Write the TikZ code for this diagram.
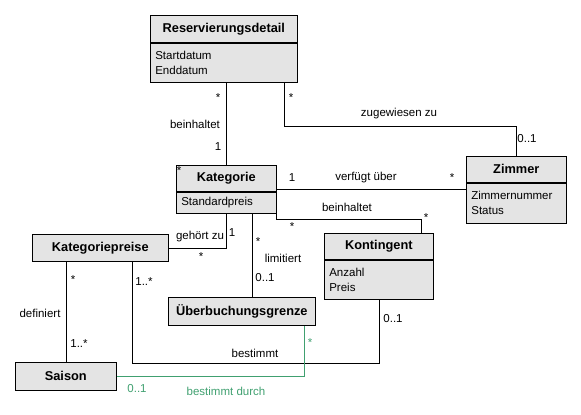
\documentclass[tikz,border=0pt]{standalone}
\usepackage{fontspec}
\setmainfont{Liberation Sans}
\usetikzlibrary{positioning}
\definecolor{boxgray}{RGB}{228,228,228}
\definecolor{assoc}{RGB}{64,160,112}
\newcommand{\fH}{\fontsize{12.8}{14}\selectfont\bfseries}
\newcommand{\fA}{\fontsize{11.5}{15}\selectfont}

\begin{document}
\begin{tikzpicture}[x=1pt,y=-1pt,line width=0.65pt,
  hd/.style={draw,fill=boxgray,font=\fH,inner sep=0pt,anchor=north west},
  attr/.style={draw,fill=boxgray,font=\fA,align=left,inner xsep=5pt,inner ysep=0pt},
  lbl/.style={font=\fA,inner sep=0pt}]
  \useasboundingbox (0,0) rectangle (581,415);
  % classes
  \node[hd,minimum width=147pt,minimum height=27pt] (rd) at (150,15) {Reservierungsdetail};
  \node[attr,text width=137pt,minimum height=39pt,below=0pt of rd] (rdA) {Startdatum\\Enddatum};
  \node[hd,minimum width=100pt,minimum height=26pt] (kat) at (176,165) {Kategorie};
  \node[attr,text width=90pt,minimum height=21pt,below=0pt of kat] (katA) {Standardpreis};
  \node[hd,minimum width=100pt,minimum height=26pt] (zim) at (466,156) {Zimmer};
  \node[attr,text width=90pt,minimum height=40pt,below=0pt of zim] (zimA) {Zimmernummer\\Status};
  \node[hd,minimum width=109pt,minimum height=26pt] (kont) at (324,233) {Kontingent};
  \node[attr,text width=99pt,minimum height=39pt,below=0pt of kont] (kontA) {Anzahl\\Preis};
  \node[hd,minimum width=136pt,minimum height=27pt] (kp) at (32,234) {Kategoriepreise};
  \node[hd,minimum width=147pt,minimum height=28pt] (ueb) at (168,297) {Überbuchungsgrenze};
  \node[hd,minimum width=101pt,minimum height=28pt] (sai) at (15,362) {Saison};
  % associations
  \draw (rdA.south -| kat.north) -- (kat.north);
  \draw ([xshift=60pt]rdA.south) -- ++(0,44) -| (zim.north);
  \draw ([yshift=-11pt]kat.east) -- ([yshift=-11pt]kat.east -| zim.west);
  \draw (katA.south east) -- ++(0,6) -| ([xshift=42pt]kont.north);
  \draw (kp.east) -| (katA.south);
  \draw ([xshift=26pt]katA.south) -- ([xshift=26pt]katA.south |- ueb.north);
  \draw (sai.north |- kp.south) -- (sai.north);
  \draw ([xshift=32pt]kp.south) -- ++(0,102) -| (kontA.south);
  \draw[assoc] (sai.east) -| ([xshift=62pt]ueb.south);
  % labels
  \node[lbl] (m1) at (218,98) {*};
  \node[lbl] (n1) at (195,124) {beinhaltet};
  \node[lbl] (m2) at (218,147) {1};
  \node[lbl] (m3) at (291,98) {*};
  \node[lbl] (n2) at (399,114) {zugewiesen zu};
  \node[lbl] (m4) at (527,139) {0..1};
  \node[lbl] (m5) at (179,171) {*};
  \node[lbl] (m6) at (292,178) {1};
  \node[lbl] (n3) at (366,178) {verfügt über};
  \node[lbl] (m7) at (452,178) {*};
  \node[lbl] (n4) at (347,207) {beinhaltet};
  \node[lbl] (m8) at (426,218) {*};
  \node[lbl] (m9) at (292,227) {*};
  \node[lbl] (n5) at (200,237) {gehört zu};
  \node[lbl] (m10) at (232,233) {1};
  \node[lbl] (m11) at (201,257) {*};
  \node[lbl] (m12) at (258,242) {*};
  \node[lbl] (n6) at (283,258) {limitiert};
  \node[lbl] (m13) at (265,278) {0..1};
  \node[lbl] (m14) at (73,280) {*};
  \node[lbl] (n7) at (40,313) {definiert};
  \node[lbl] (m15) at (79,344) {1..*};
  \node[lbl] (m16) at (144,282) {1..*};
  \node[lbl] (n8) at (255,353) {bestimmt};
  \node[lbl] (m17) at (393,319) {0..1};
  \node[lbl,assoc] (m18) at (310,343) {*};
  \node[lbl,assoc] (m19) at (137,389) {0..1};
  \node[lbl,assoc] (n9) at (226,391) {bestimmt durch};
\end{tikzpicture}
\end{document}
